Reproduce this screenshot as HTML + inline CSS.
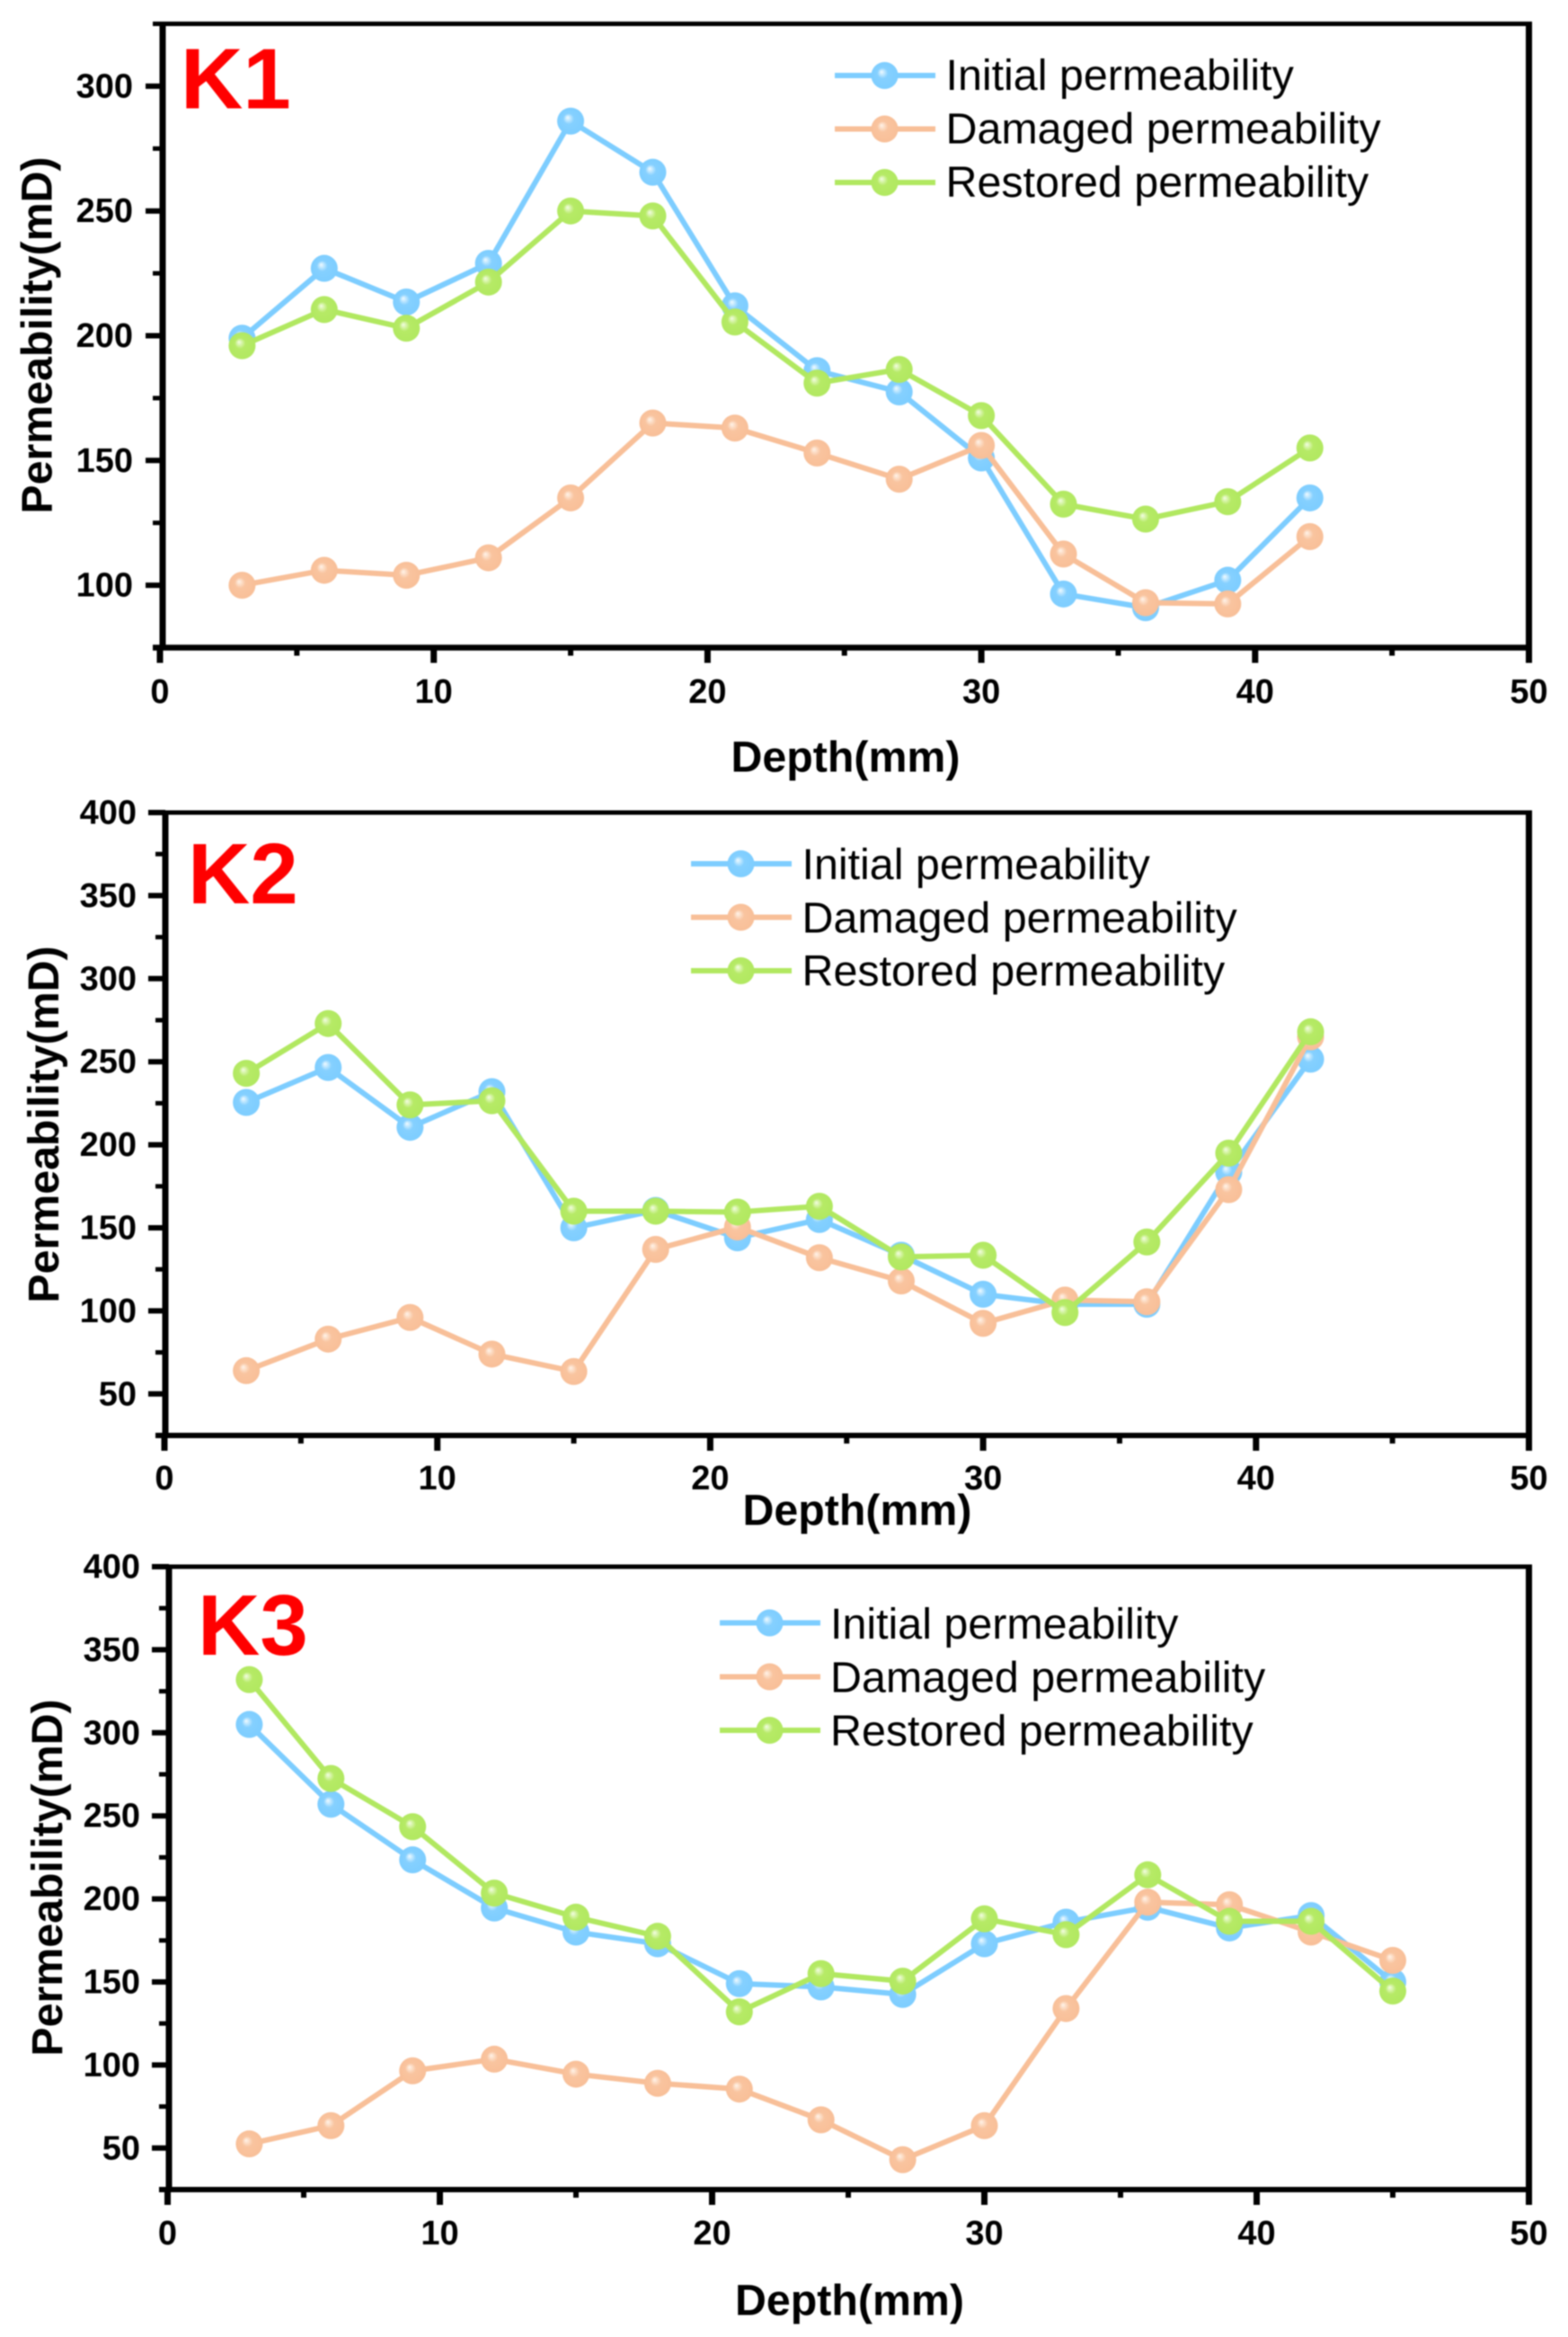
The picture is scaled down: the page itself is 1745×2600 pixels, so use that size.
<!DOCTYPE html>
<html lang="en">
<head>
<meta charset="utf-8">
<title>Permeability vs depth for K1, K2 and K3</title>
<style>
html,body{margin:0;padding:0;background:#fff;}
svg{display:block;filter:blur(0.7px);}
text{font-family:"Liberation Sans",sans-serif;fill:#000;}
.tick{font-size:38px;font-weight:bold;}
.title{font-size:48.3px;font-weight:bold;}
.legend{font-size:48.4px;}
.panel-label{font-size:96px;font-weight:bold;fill:#ff0000;}
</style>
</head>
<body>
<svg id="figure" xmlns="http://www.w3.org/2000/svg" width="1745" height="2600" viewBox="0 0 1745 2600">
  <defs>
    <radialGradient id="grad-initial" cx="0.5" cy="0.5" r="0.5" fx="0.38" fy="0.36">
      <stop offset="0" stop-color="#f2fbff"/><stop offset="0.4" stop-color="#85d0ff"/><stop offset="1" stop-color="#7dcdff"/>
    </radialGradient>
    <radialGradient id="grad-damaged" cx="0.5" cy="0.5" r="0.5" fx="0.38" fy="0.36">
      <stop offset="0" stop-color="#fff4ea"/><stop offset="0.4" stop-color="#f9c49f"/><stop offset="1" stop-color="#f8bf98"/>
    </radialGradient>
    <radialGradient id="grad-restored" cx="0.5" cy="0.5" r="0.5" fx="0.38" fy="0.36">
      <stop offset="0" stop-color="#f4fde4"/><stop offset="0.4" stop-color="#b6ea66"/><stop offset="1" stop-color="#b1e860"/>
    </radialGradient>
  </defs>
  <rect width="1745" height="2600" fill="#fff"/>

  <g id="panel-k1"></g>
  <g id="panel-k2"></g>
  <g id="panel-k3"></g>

  <text class="panel-label" x="201" y="120.5">K1</text>
  <text class="panel-label" x="209" y="1005">K2</text>
  <text class="panel-label" x="220" y="1841">K3</text>

  <text class="title" x="941" y="858.5" text-anchor="middle">Depth(mm)</text>
  <text class="title" x="954" y="1696.5" text-anchor="middle">Depth(mm)</text>
  <text class="title" x="945.5" y="2575.5" text-anchor="middle">Depth(mm)</text>
  <text class="title" transform="translate(57.5 373) rotate(-90)" text-anchor="middle">Permeability(mD)</text>
  <text class="title" transform="translate(65 1251) rotate(-90)" text-anchor="middle">Permeability(mD)</text>
  <text class="title" transform="translate(69 2089) rotate(-90)" text-anchor="middle">Permeability(mD)</text>

  <g>
    <g><line x1="929" x2="1041" y1="84" y2="84" stroke="#7dcdff" stroke-width="6"/><circle cx="984.5" cy="84" r="15" fill="url(#grad-initial)"/><text class="legend" x="1052.5" y="100">Initial permeability</text></g>
    <g><line x1="929" x2="1041" y1="143.5" y2="143.5" stroke="#f8bf98" stroke-width="6"/><circle cx="984.5" cy="143.5" r="15" fill="url(#grad-damaged)"/><text class="legend" x="1052.5" y="159.5">Damaged permeability</text></g>
    <g><line x1="929" x2="1041" y1="203" y2="203" stroke="#b1e860" stroke-width="6"/><circle cx="984.5" cy="203" r="15" fill="url(#grad-restored)"/><text class="legend" x="1052.5" y="219">Restored permeability</text></g>
  </g>
  <g>
    <g><line x1="769" x2="881" y1="961" y2="961" stroke="#7dcdff" stroke-width="6"/><circle cx="824.5" cy="961" r="15" fill="url(#grad-initial)"/><text class="legend" x="892.5" y="978">Initial permeability</text></g>
    <g><line x1="769" x2="881" y1="1020.5" y2="1020.5" stroke="#f8bf98" stroke-width="6"/><circle cx="824.5" cy="1020.5" r="15" fill="url(#grad-damaged)"/><text class="legend" x="892.5" y="1037.5">Damaged permeability</text></g>
    <g><line x1="769" x2="881" y1="1080" y2="1080" stroke="#b1e860" stroke-width="6"/><circle cx="824.5" cy="1080" r="15" fill="url(#grad-restored)"/><text class="legend" x="892.5" y="1096.5">Restored permeability</text></g>
  </g>
  <g>
    <g><line x1="801" x2="913" y1="1805.5" y2="1805.5" stroke="#7dcdff" stroke-width="6"/><circle cx="856.5" cy="1805.5" r="15" fill="url(#grad-initial)"/><text class="legend" x="924" y="1823">Initial permeability</text></g>
    <g><line x1="801" x2="913" y1="1865.5" y2="1865.5" stroke="#f8bf98" stroke-width="6"/><circle cx="856.5" cy="1865.5" r="15" fill="url(#grad-damaged)"/><text class="legend" x="924" y="1882.5">Damaged permeability</text></g>
    <g><line x1="801" x2="913" y1="1925" y2="1925" stroke="#b1e860" stroke-width="6"/><circle cx="856.5" cy="1925" r="15" fill="url(#grad-restored)"/><text class="legend" x="924" y="1942">Restored permeability</text></g>
  </g>
</svg>

<script>
const xTicks = [0, 10, 20, 30, 40, 50];
const xMinorTicks = [5, 15, 25, 35, 45];

const yTicksK1 = [100, 150, 200, 250, 300];
const yMinorTicksK1 = [75, 125, 175, 225, 275, 325];
const yTicksK2 = [50, 100, 150, 200, 250, 300, 350, 400];
const yMinorTicksK2 = [25, 75, 125, 175, 225, 275, 325, 375];
const yTicksK3 = [50, 100, 150, 200, 250, 300, 350, 400];
const yMinorTicksK3 = [25, 75, 125, 175, 225, 275, 325, 375];

const depthK1 = [3, 6, 9, 12, 15, 18, 21, 24, 27, 30, 33, 36, 39, 42];
const initialK1 = [199, 227, 213.5, 229, 286, 265.5, 212, 186, 177.5, 151, 96.5, 91, 102, 135];
const damagedK1 = [100, 106, 104, 111, 135, 165, 163, 153, 142.5, 156, 112.5, 93, 92.5, 119.5];
const restoredK1 = [196, 210.5, 203, 221.5, 250, 248, 205.5, 181, 186.5, 168, 132.5, 126.5, 133.5, 155];

const depthK2 = [3, 6, 9, 12, 15, 18, 21, 24, 27, 30, 33, 36, 39, 42];
const initialK2 = [225.5, 246.5, 210.5, 232, 150, 160.5, 144, 155, 133.5, 110, 104, 104, 183.5, 251.5];
const damagedK2 = [64, 83, 96, 74, 63.5, 137, 150.5, 132, 118, 92.5, 106.5, 105.5, 173, 265];
const restoredK2 = [243, 273, 224, 226.5, 160, 160, 159.5, 163, 132.5, 133.5, 99, 141.5, 195, 268];

const depthK3 = [3, 6, 9, 12, 15, 18, 21, 24, 27, 30, 33, 36, 39, 42, 45];
const initialK3 = [305, 257, 223.5, 194.5, 180, 173, 149, 147, 142.5, 173, 186, 195, 182.5, 190, 150];
const damagedK3 = [52.5, 63.5, 96.5, 103.5, 94.5, 89, 85.5, 67, 43, 63.5, 134, 198, 196.5, 180, 163];
const restoredK3 = [332, 272.5, 243.5, 203.5, 189, 177.5, 132, 155, 150.5, 188, 178.5, 214.5, 186.5, 186.5, 144.5];

const SVG_NS = 'http://www.w3.org/2000/svg';

function shape(parent, tag, props) {
  const el = document.createElementNS(SVG_NS, tag);
  for (const key in props) el.setAttribute(key, props[key]);
  parent.appendChild(el);
  return el;
}

function drawSeries(parent, xs, ys, xScale, yScale, color, gradient, seriesName) {
  const group = shape(parent, 'g', {});
  
  
  const pts = xs.map((d, i) => xScale(d) + ',' + yScale(ys[i])).join(' ');
  const line = shape(group, 'polyline', {points: pts, fill: 'none', stroke: color, 'stroke-width': 6, 'stroke-linejoin': 'round'});
  
  
  xs.forEach((d, i) => {
    const dot = shape(group, 'circle', {cx: xScale(d), cy: yScale(ys[i]), r: 15, fill: 'url(#' + gradient + ')'});
    
    
  });
}

function drawPanel(opts) {
  const root = document.getElementById(opts.id);
  const xScale = v => opts.x0 + (v - 0) * (opts.x50 - opts.x0) / 50;
  const yScale = v => opts.bottom - (v - opts.yMin) * (opts.bottom - opts.top) / (opts.yMax - opts.yMin);

  const axes = shape(root, 'g', {});
  
  

  const frameTop = shape(axes, 'line', {x1: opts.spineL - 11, x2: opts.x50 + 3.5, y1: opts.top, y2: opts.top, stroke: '#000', 'stroke-width': 5});
  
  
  const frameBottom = shape(axes, 'line', {x1: opts.spineL - 11, x2: opts.x50 + 3.5, y1: opts.bottom, y2: opts.bottom, stroke: '#000', 'stroke-width': opts.bottomWidth});
  
  
  const frameLeft = shape(axes, 'line', {x1: opts.spineL, x2: opts.spineL, y1: opts.top - 2, y2: opts.bottom + 2, stroke: '#000', 'stroke-width': 7});
  
  
  const frameRight = shape(axes, 'line', {x1: opts.x50, x2: opts.x50, y1: opts.top - 2, y2: opts.bottom + 2, stroke: '#000', 'stroke-width': 7});
  
  

  opts.xTicks.forEach(t => {
    const mark = shape(axes, 'line', {x1: xScale(t), x2: xScale(t), y1: opts.bottom, y2: opts.bottom + 17, stroke: '#000', 'stroke-width': 7});
    
    
    const label = shape(axes, 'text', {class: 'tick', x: xScale(t), y: opts.xLabelY, 'text-anchor': 'middle'});
    label.textContent = t;
    
    
  });
  opts.xMinor.forEach(t => {
    const mark = shape(axes, 'line', {x1: xScale(t), x2: xScale(t), y1: opts.bottom, y2: opts.bottom + 9, stroke: '#000', 'stroke-width': 6});
    
    
  });
  opts.yTicks.forEach(t => {
    const mark = shape(axes, 'line', {x1: opts.spineL - 19, x2: opts.spineL, y1: yScale(t), y2: yScale(t), stroke: '#000', 'stroke-width': 6});
    
    
    const label = shape(axes, 'text', {class: 'tick', x: opts.yLabelX, y: yScale(t) + 12.5, 'text-anchor': 'end'});
    label.textContent = t;
    
    
  });
  opts.yMinor.forEach(t => {
    const mark = shape(axes, 'line', {x1: opts.spineL - 11, x2: opts.spineL, y1: yScale(t), y2: yScale(t), stroke: '#000', 'stroke-width': 5});
    
    
  });

  drawSeries(root, opts.depth, opts.initial, xScale, yScale, '#7dcdff', 'grad-initial', 'series-initial-permeability');
  drawSeries(root, opts.depth, opts.damaged, xScale, yScale, '#f8bf98', 'grad-damaged', 'series-damaged-permeability');
  drawSeries(root, opts.depth, opts.restored, xScale, yScale, '#b1e860', 'grad-restored', 'series-restored-permeability');
}

drawPanel({
  id: 'panel-k1', x0: 178, x50: 1701.5, spineL: 181, top: 26.5, bottom: 720.5, bottomWidth: 6.5, yMin: 75, yMax: 325,
  xLabelY: 782, yLabelX: 148,
  xTicks: xTicks, xMinor: xMinorTicks, yTicks: yTicksK1, yMinor: yMinorTicksK1,
  depth: depthK1, initial: initialK1, damaged: damagedK1, restored: restoredK1
});
drawPanel({
  id: 'panel-k2', x0: 183, x50: 1701.5, spineL: 184, top: 904, bottom: 1597, bottomWidth: 6, yMin: 25, yMax: 400,
  xLabelY: 1657, yLabelX: 152,
  xTicks: xTicks, xMinor: xMinorTicks, yTicks: yTicksK2, yMinor: yMinorTicksK2,
  depth: depthK2, initial: initialK2, damaged: damagedK2, restored: restoredK2
});
drawPanel({
  id: 'panel-k3', x0: 186.5, x50: 1701.5, spineL: 188, top: 1743, bottom: 2436, bottomWidth: 6, yMin: 25, yMax: 400,
  xLabelY: 2497, yLabelX: 156,
  xTicks: xTicks, xMinor: xMinorTicks, yTicks: yTicksK3, yMinor: yMinorTicksK3,
  depth: depthK3, initial: initialK3, damaged: damagedK3, restored: restoredK3
});
</script>
</body>
</html>
